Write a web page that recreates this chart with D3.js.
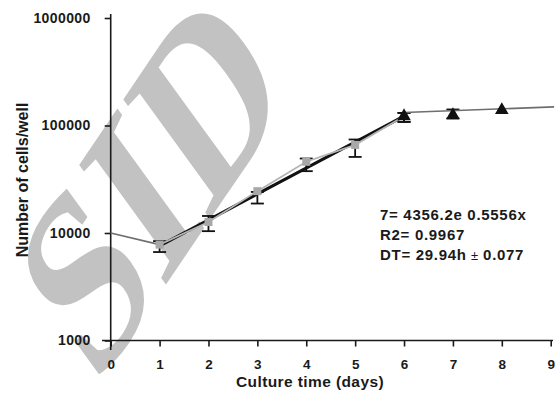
<!DOCTYPE html>
<html>
<head>
<meta charset="utf-8">
<script src="https://cdn.jsdelivr.net/npm/d3@7"></script>
<style>
  body { margin: 0; background: #fff; }
  text { font-family: "Liberation Sans", Arial, sans-serif; }
</style>
</head>
<body>
<div id="chart"></div>
<script>
// lag phase (day 0 -> day 1)
var lagDays = [0, 1]
var lagCells = [10000, 7800]

// growth phase, grey squares with error bars
var growthDays = [1, 2, 3, 4, 5, 6]
var growthCells = [7800, 12650, 24500, 46000, 66000, 122000]
var growthLow = [6650, 10400, 18800, 37600, 51000, 108000]
var growthHigh = [8400, 14400, 24100, 49300, 74100, 131000]

// exponential fit endpoints
var fitDays = [1, 6]
var fitCells = [7590, 122100]

// plateau, black triangles
var plateauDays = [6, 7, 8]
var plateauCells = [122000, 125000, 139000]
var plateauLow = [108000, 116000, null]
var plateauHigh = [131000, 141000, null]
var plateauLineDays = [6, 9.07]
var plateauLineCells = [132000, 149000]

var xTicks = [0, 1, 2, 3, 4, 5, 6, 7, 8, 9]
var yTicks = [1000, 10000, 100000, 1000000]
var fitText = ['7= 4356.2e 0.5556x', 'R2= 0.9967', 'DT= 29.94h']

var W = 559, H = 401

var svg = d3.select('#chart').append('svg')
    .attr('width', W)
    .attr('height', H)

// watermark behind the chart
svg.append('text')
    .attr('transform', 'translate(150,180) rotate(-56) skewX(-20)')
    .attr('text-anchor', 'middle')
    .attr('dominant-baseline', 'central')
    .style('font-family', '"Liberation Serif", "DejaVu Serif", serif')
    .style('font-size', '212px')
    .style('font-weight', 'bold')
    .style('fill', '#c2c2c2')
    .text('SID')

var x = d3.scaleLinear().domain([0, 9]).range([110.7, 550.7])
var y = d3.scaleLog().domain([1000, 1000000]).range([340.5, 18])

// axes
var xAxis = svg.append('g')
    .attr('transform', 'translate(0,' + y(1000) + ')')
    .call(d3.axisBottom(x).tickValues(xTicks).tickSize(6).tickSizeOuter(0).tickPadding(13))
xAxis.select('.domain').attr('d', 'M102,0H553')
var yAxis = svg.append('g')
    .attr('transform', 'translate(' + x(0) + ',0)')
    .call(d3.axisLeft(y).tickValues(yTicks).tickFormat(d3.format('d')).tickSize(6).tickSizeOuter(0).tickPadding(14))
yAxis.select('.domain').attr('d', 'M0,14V350')

svg.selectAll('.domain, .tick line')
    .attr('stroke', '#1a1a1a')
    .attr('stroke-width', 1.6)
xAxis.selectAll('.tick text')
    .style('font-size', '13.5px').style('font-weight', 'bold').attr('fill', '#1a1a1a')
yAxis.selectAll('.tick text')
    .style('font-size', '14px').style('font-weight', 'bold').style('letter-spacing', '0.4px')
    .attr('fill', '#1a1a1a')

svg.append('text')
    .attr('x', 310).attr('y', 387)
    .attr('text-anchor', 'middle')
    .style('font-size', '15.5px').style('font-weight', 'bold').style('letter-spacing', '0.4px')
    .attr('fill', '#1a1a1a')
    .text('Culture time (days)')

svg.append('text')
    .attr('transform', 'translate(28,180) rotate(-90)')
    .attr('text-anchor', 'middle')
    .style('font-size', '16px').style('font-weight', 'bold').attr('fill', '#1a1a1a')
    .text('Number of cells/well')

var line = d3.line()
    .x(function(d) { return x(d[0]) })
    .y(function(d) { return y(d[1]) })

function pairs(a, b) { return a.map(function(v, i) { return [v, b[i]] }) }

// error bars
function errorBars(days, low, high) {
  var g = svg.append('g').attr('stroke', '#111').attr('stroke-width', 1.8)
  days.forEach(function(d, i) {
    if (low[i] == null) return
    var cx = x(d)
    g.append('line').attr('x1', cx).attr('x2', cx).attr('y1', y(low[i])).attr('y2', y(high[i]))
    g.append('line').attr('x1', cx - 6.5).attr('x2', cx + 6.5).attr('y1', y(low[i])).attr('y2', y(low[i]))
    g.append('line').attr('x1', cx - 6.5).attr('x2', cx + 6.5).attr('y1', y(high[i])).attr('y2', y(high[i]))
  })
}
errorBars(growthDays, growthLow, growthHigh)
errorBars(plateauDays, plateauLow, plateauHigh)

svg.append('path').datum(pairs(lagDays, lagCells))
    .attr('d', line).attr('fill', 'none').attr('stroke', '#6e6e6e').attr('stroke-width', 1.6)

svg.append('path').datum(pairs(plateauLineDays, plateauLineCells))
    .attr('d', line).attr('fill', 'none').attr('stroke', '#6e6e6e').attr('stroke-width', 1.6)

svg.append('path').datum(pairs(fitDays, fitCells))
    .attr('d', line).attr('fill', 'none').attr('stroke', '#111').attr('stroke-width', 3)

svg.append('path').datum(pairs(growthDays, growthCells))
    .attr('d', line).attr('fill', 'none').attr('stroke', '#b4b4b4').attr('stroke-width', 1.8)

// squares
svg.append('g').selectAll('rect')
    .data(pairs(growthDays.slice(0, 5), growthCells.slice(0, 5)))
    .enter().append('rect')
    .attr('x', function(d) { return x(d[0]) - 4 })
    .attr('y', function(d) { return y(d[1]) - 4 })
    .attr('width', 8).attr('height', 8)
    .attr('fill', '#a8a8a8')

// triangles
svg.append('g').selectAll('path')
    .data(pairs(plateauDays, plateauCells))
    .enter().append('path')
    .attr('transform', function(d) { return 'translate(' + x(d[0]) + ',' + y(d[1]) + ')' })
    .attr('d', d3.symbol().type(d3.symbolTriangle).size(80))
    .attr('fill', '#111')

// fit annotation
var ann = svg.append('text')
    .attr('x', 380).attr('y', 220)
    .style('font-size', '15px').style('font-weight', 'bold').style('letter-spacing', '0.7px')
    .attr('fill', '#1a1a1a')
ann.selectAll('tspan').data(fitText).enter().append('tspan')
    .attr('x', 380)
    .attr('dy', function(d, i) { return i ? 20 : 0 })
    .text(function(d) { return d })
ann.append('tspan').style('font-weight', 'normal').style('font-size', '13px').text(' \u00b1 ')
ann.append('tspan').text('0.077')
</script>
</body>
</html>
